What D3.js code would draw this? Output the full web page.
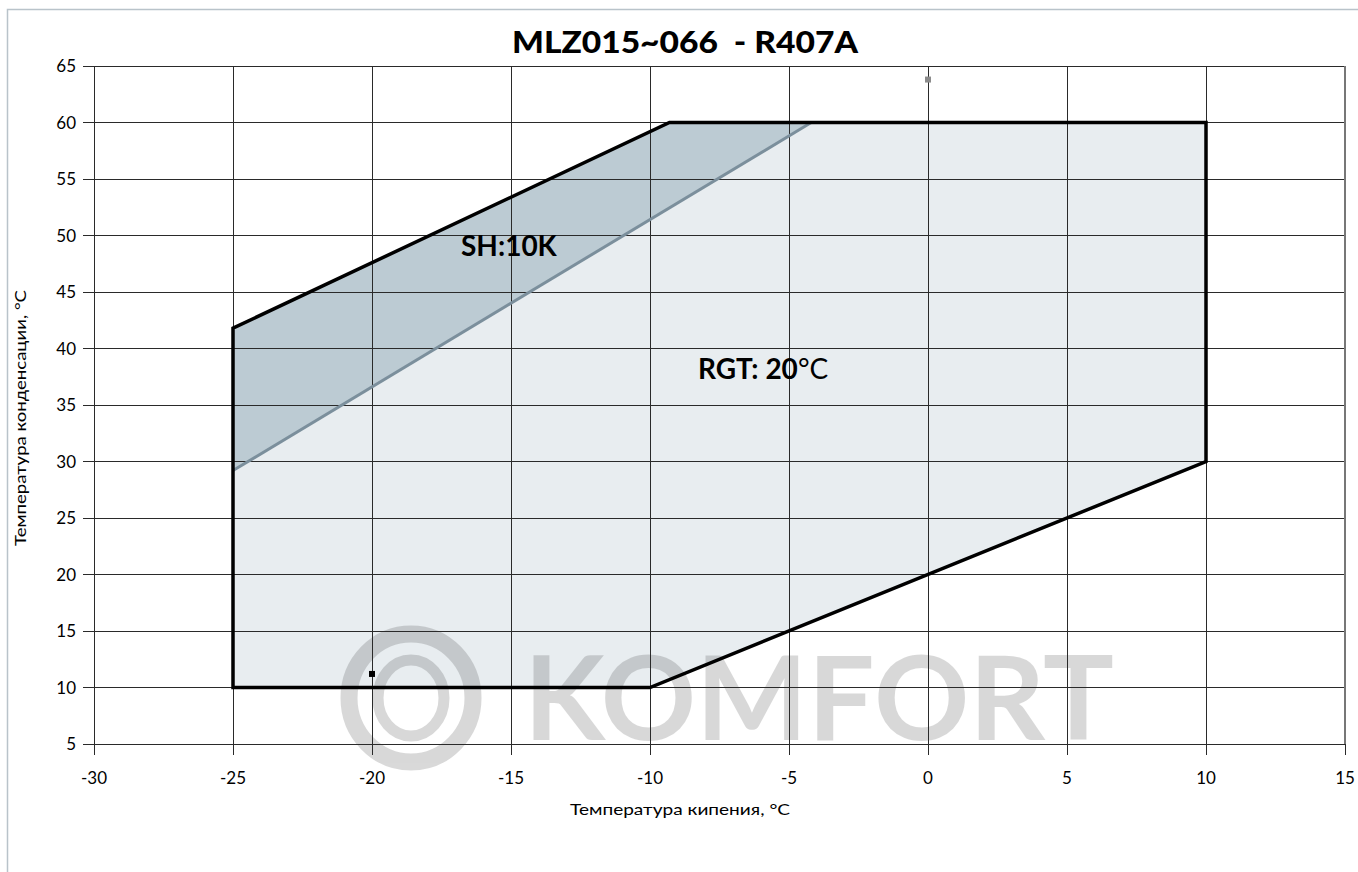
<!DOCTYPE html>
<html>
<head>
<meta charset="utf-8">
<script src="https://cdn.jsdelivr.net/npm/d3@7"></script>
<style>
  html, body { margin: 0; padding: 0; background: #fff; }
  svg { display: block; }
  text { font-family: "Lato", "Open Sans", sans-serif; }
</style>
</head>
<body>
<svg id="chart" width="1358" height="872"></svg>
<script>
// ---- data ----
const chartTitle = "MLZ015~066  - R407A";
const xTicks = [-30, -25, -20, -15, -10, -5, 0, 5, 10, 15];
const yTicks = [5, 10, 15, 20, 25, 30, 35, 40, 45, 50, 55, 60, 65];
const xLabel = "Температура кипения, °C";
const yLabel = "Температура конденсации, °C";

// operating envelope (evaporating temp, condensing temp)
const envelopeX = [-25, -25, -9.3, 10, 10, -10];
const envelopeY = [10, 41.8, 60, 60, 30, 10];

// SH:10K region
const shX = [-25, -9.3, -4.2, -25];
const shY = [41.8, 60, 60, 29.2];

// SH boundary line
const shLineX = [-25, -4.2];
const shLineY = [29.2, 60];

// small markers
const markerX = [0, -20];
const markerY = [63.8, 11.2];
const markerColor = ["#8c8c8c", "#000000"];

const labelSH = "SH:10K";
const labelRGTbold = "RGT: 20";
const labelRGTunit = "°C";

// ---- drawing ----
const svg = d3.select("#chart");
const x = d3.scaleLinear().domain([-30, 15]).range([94, 1345]);
const y = d3.scaleLinear().domain([5, 65]).range([744, 66]);

// outer frame
svg.append("rect").attr("x", 7.5).attr("y", 9.5).attr("width", 1400).attr("height", 900)
  .attr("fill", "none").attr("stroke", "#b9c3ca").attr("stroke-width", 1.5);

// title
svg.append("text").attr("x", 512).attr("y", 53)
  .attr("font-size", 30).attr("font-weight", "900").attr("fill", "#000")
  .attr("textLength", 346).attr("lengthAdjust", "spacingAndGlyphs")
  .style("white-space", "pre").text(chartTitle);

// fills
const pts = (xs, ys) => xs.map((v, i) => [x(v), y(ys[i])]);
const line = d3.line();

svg.append("path").attr("d", line(pts(envelopeX, envelopeY)) + "Z")
  .attr("fill", "#e8edf0");
svg.append("path").attr("d", line(pts(shX, shY)) + "Z")
  .attr("fill", "#bccbd3");

// watermark
const wm = svg.append("g").attr("opacity", 0.15);
wm.append("ellipse").attr("cx", 411).attr("cy", 698).attr("rx", 62).attr("ry", 64)
  .attr("fill", "none").attr("stroke", "#000").attr("stroke-width", 17);
wm.append("ellipse").attr("cx", 411).attr("cy", 698).attr("rx", 33).attr("ry", 38)
  .attr("fill", "none").attr("stroke", "#000").attr("stroke-width", 11);
wm.append("text").attr("x", 524).attr("y", 740).attr("font-size", 116)
  .attr("font-weight", "bold").attr("font-family", "Liberation Sans, Arial, sans-serif")
  .attr("textLength", 590).attr("lengthAdjust", "spacingAndGlyphs")
  .attr("fill", "#000").text("KOMFORT");

// grid
const grid = svg.append("g").attr("stroke", "#2a2a2a").attr("stroke-width", 1)
  .attr("shape-rendering", "crispEdges");
xTicks.forEach(t => {
  grid.append("line").attr("x1", x(t)).attr("x2", x(t)).attr("y1", y(65)).attr("y2", y(5) + 11);
});
yTicks.forEach(t => {
  grid.append("line").attr("x1", x(-30) - 11).attr("x2", x(15)).attr("y1", y(t)).attr("y2", y(t));
});
// right border heavier
svg.append("line").attr("x1", x(15)).attr("x2", x(15)).attr("y1", y(65)).attr("y2", y(5))
  .attr("stroke", "#777").attr("stroke-width", 2);

// SH line
svg.append("path").attr("d", line(pts(shLineX, shLineY)))
  .attr("fill", "none").attr("stroke", "#7b8f9c").attr("stroke-width", 3);

// envelope outline
svg.append("path").attr("d", line(pts(envelopeX, envelopeY)) + "Z")
  .attr("fill", "none").attr("stroke", "#000").attr("stroke-width", 3.5)
  .attr("stroke-linejoin", "miter");

// markers
markerX.forEach((v, i) => {
  svg.append("rect").attr("x", x(v) - 3).attr("y", y(markerY[i]) - 3)
    .attr("width", 6).attr("height", 6).attr("fill", markerColor[i]);
});

// tick labels
xTicks.forEach(t => {
  svg.append("text").attr("x", x(t)).attr("y", 784).attr("text-anchor", "middle")
    .attr("font-size", 17).attr("fill", "#000").text(t);
});
yTicks.forEach(t => {
  svg.append("text").attr("x", 76).attr("y", y(t) + 6).attr("text-anchor", "end")
    .attr("font-size", 17).attr("fill", "#000").text(t);
});

// axis titles
svg.append("text").attr("x", 680).attr("y", 815).attr("text-anchor", "middle")
  .attr("font-size", 16).attr("fill", "#000")
  .attr("textLength", 220).attr("lengthAdjust", "spacingAndGlyphs").text(xLabel);
svg.append("text").attr("transform", "translate(26,418) rotate(-90)").attr("text-anchor", "middle")
  .attr("font-size", 16).attr("fill", "#000")
  .attr("textLength", 256).attr("lengthAdjust", "spacingAndGlyphs").text(yLabel);

// region labels
svg.append("text").attr("x", 461).attr("y", 256).attr("font-size", 28)
  .attr("font-weight", "bold").attr("fill", "#000").text(labelSH);
const rgt = svg.append("text").attr("x", 698).attr("y", 379).attr("font-size", 28).attr("fill", "#000");
rgt.append("tspan").attr("font-weight", "bold").text(labelRGTbold);
rgt.append("tspan").attr("font-weight", "normal").text(labelRGTunit);
</script>
</body>
</html>
